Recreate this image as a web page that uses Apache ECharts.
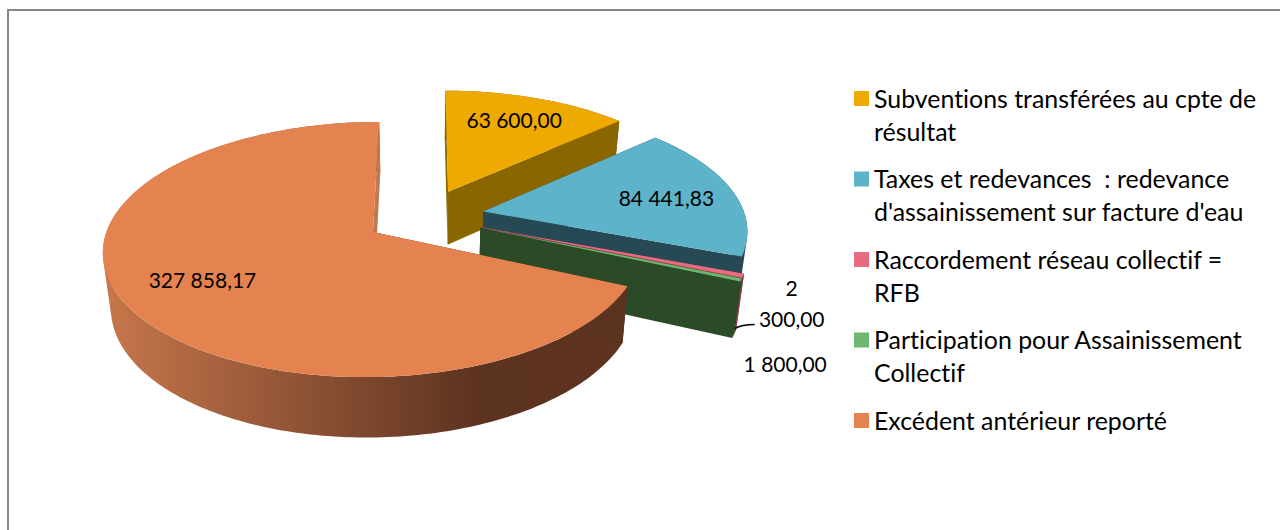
<!DOCTYPE html>
<html><head><meta charset="utf-8">
<style>html,body{margin:0;padding:0;background:#fff}#c{width:1280px;height:530px}
#c text{font-variant-ligatures:none !important}</style>
<script src="https://cdn.jsdelivr.net/npm/echarts@6/dist/echarts.min.js"></script>
</head><body><div id="c"></div>
<script>
const categories = [
  "Subventions transférées au cpte de\nrésultat",
  "Taxes et redevances  : redevance\nd'assainissement sur facture d'eau",
  "Raccordement réseau collectif =\nRFB",
  "Participation pour Assainissement\nCollectif",
  "Excédent antérieur reporté\n "
];
const values = [63600, 84441.83, 2300, 1800, 327858.17];
const valueLabels = ["63 600,00", "84 441,83", "2\n300,00", "1 800,00", "327 858,17"];

// styles
const topColors = ["#EEAA00", "#5CB3CA", "#E96B80", "#6DB86F", "#E58350"];
const sideColors = ["#8A6600", "#264955", "#8E3E4E", "#2B4A28", "#5C3220"];
const FONT = "Lato";
const LABEL_SIZE = 21;
const LEGEND_SIZE = 24.9;
// perspective model of the tilted disc
const K = .135, A = 121, R = 262, CX = 424.4, CY = 216.6, H = 54, E = .23, SX = .975, SY = 1.04;
// label placement: polar offsets from each slice's apex
const labelAngles = [22.8, 80.7, 118.1, 134.3, 238.7];
const labelRadii = [.752, .727, 1.207, 1.359, .70];

const total = values.reduce((a, b) => a + b, 0);
const slices = [];
values.reduce((acc, v) => {
  const a0 = acc / total * 2 * Math.PI, a1 = (acc + v) / total * 2 * Math.PI;
  slices.push({ a0, a1, mid: (a0 + a1) / 2 });
  return acc + v;
}, 0);

function proj(u, v, low) {
  const d = 1 + K * v;
  let x = R * u / d, y = -A * v / d;
  if (low) { x *= SX; y = y * SY + H; }
  return [CX + x, CY + y];
}
function pt(s, a, r, low) {
  return proj(E * Math.sin(s.mid) + r * Math.sin(a), E * Math.cos(s.mid) + r * Math.cos(a), low);
}
function arc(s, low) {
  const n = Math.max(2, Math.ceil((s.a1 - s.a0) / 0.02)), out = [];
  for (let i = 0; i <= n; i++) out.push(pt(s, s.a0 + (s.a1 - s.a0) * i / n, 1, low));
  return out;
}
function poly(points, fill) {
  return { type: 'polygon', shape: { points }, style: { fill, stroke: 'none' } };
}
// outer wall: one quad per arc step, all wound the same way so that the silhouette is closed
function wallPath(top, low) {
  let d = '';
  for (let i = 0; i < top.length - 1; i++) {
    let q = [top[i], top[i + 1], low[i + 1], low[i]];
    let area = 0;
    q.forEach((p, j) => { const n = q[(j + 1) % 4]; area += p[0] * n[1] - n[0] * p[1]; });
    if (area < 0) q = q.reverse();
    d += 'M' + q.map(p => p[0].toFixed(2) + ' ' + p[1].toFixed(2)).join('L') + 'Z';
  }
  return d;
}
function makeRender(i) {
  return function () {
    const s = slices[i];
    const topArc = arc(s, false), lowArc = arc(s, true);
    const apex = pt(s, 0, 0, false), apexLow = pt(s, 0, 0, true);
    const side = sideColors[i];
    const lastEdgeFill = i === 4 ? '#C0794C' : side;
    const ringFill = i === 4
      ? new echarts.graphic.LinearGradient(103, 0, 627, 0, [
          { offset: 0, color: '#C7774B' }, { offset: .72, color: '#5C3220' }, { offset: 1, color: '#5E3320' }], true)
      : side;
    const children = [
      { type: 'path', shape: { pathData: wallPath(topArc, lowArc) }, style: { fill: ringFill, stroke: 'none' } },
      poly([apex, topArc[0], lowArc[0], apexLow], side),
      poly([apex, topArc[topArc.length - 1], lowArc[lowArc.length - 1], apexLow], lastEdgeFill),
      poly([apex].concat(topArc), topColors[i])
    ];
    const c = pt(s, labelAngles[i] * Math.PI / 180, labelRadii[i], false);
    children.push({
      type: 'text',
      style: { text: valueLabels[i], x: c[0], y: c[1], align: 'center', verticalAlign: 'middle',
        fontFamily: FONT, fontSize: LABEL_SIZE, lineHeight: 31, fill: '#000' }
    });
    if (i === 2) {
      children.push({
        type: 'path',
        shape: { pathData: `M${c[0] - 57} ${c[1] + 25} Q${c[0] - 50} ${c[1] + 21} ${c[0] - 37} ${c[1] + 21}` },
        style: { fill: 'none', stroke: '#000', lineWidth: 1.6 }
      });
    }
    return { type: 'group', children };
  };
}

const chart = echarts.init(document.getElementById('c'), null, { renderer: 'svg' });
chart.setOption({
  animation: false,
  backgroundColor: '#fff',
  graphic: [{
    type: 'rect', silent: true, z: -10,
    shape: { x: 8, y: 10, width: 1300, height: 540 },
    style: { fill: '#fff', stroke: '#868686', lineWidth: 2 }
  }],
  legend: {
    orient: 'vertical', left: 849, top: 76, selectedMode: false,
    itemWidth: 15, itemHeight: 66, itemGap: 14.5,
    icon: 'path://M0,0M15,66M0,10h15v15h-15z',
    textStyle: { fontFamily: FONT, fontSize: LEGEND_SIZE, lineHeight: 33, color: '#000' },
    data: categories
  },
  series: categories.map((name, i) => ({
    type: 'custom', name, coordinateSystem: 'none', silent: true,
    itemStyle: { color: topColors[i] },
    renderItem: makeRender(i),
    data: [[values[i]]]
  }))
});
</script></body></html>
